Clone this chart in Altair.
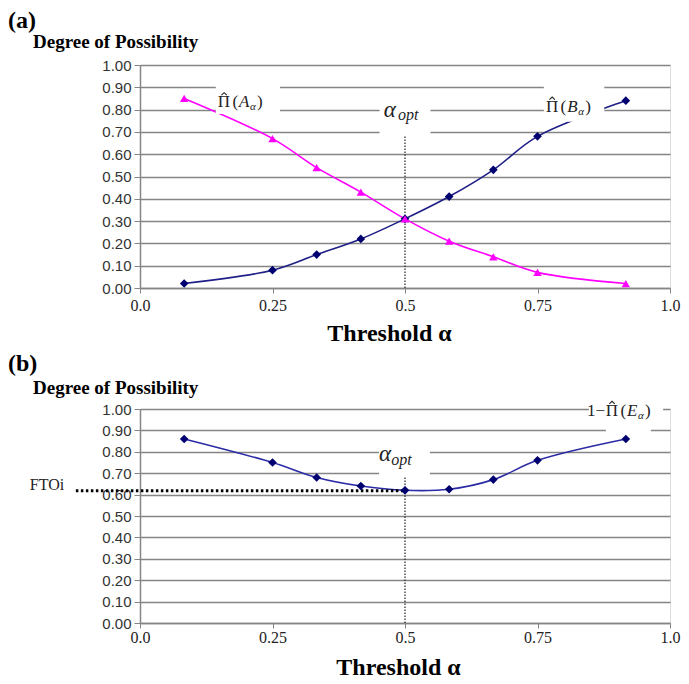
import altair as alt
import pandas as pd

# ---------------- data ----------------
alpha_levels = [1/12, 3/12, 4/12, 5/12, 6/12, 7/12, 8/12, 9/12, 11/12]
pi_A = [0.85, 0.67, 0.54, 0.43, 0.31, 0.21, 0.14, 0.07, 0.02]
pi_B = [0.02, 0.08, 0.15, 0.22, 0.31, 0.41, 0.53, 0.68, 0.84]
one_minus_pi_E = [0.86, 0.75, 0.68, 0.64, 0.62, 0.625, 0.67, 0.76, 0.86]
alpha_opt = 0.5
ftoi = 0.618

x_ticks = [0.0, 0.25, 0.5, 0.75, 1.0]
x_tick_labels = ["0.0", "0.25", "0.5", "0.75", "1.0"]
y_ticks = [0.0, 0.1, 0.2, 0.3, 0.4, 0.5, 0.6, 0.7, 0.8, 0.9, 1.0]

# white label-background boxes (data coordinates)
boxes_a = {"x": [0.143, 0.452, 0.762], "x2": [0.264, 0.548, 0.876],
           "y": [0.78, 0.685, 0.745], "y2": [0.915, 0.86, 0.915]}
boxes_b = {"x": [0.451, 0.847, 0.879], "x2": [0.547, 0.987, 0.964],
           "y": [0.687, 0.975, 0.88], "y2": [0.841, 1.03, 0.975]}

SERIF = "Liberation Serif"
SANS = "Liberation Sans"
GRID = "#858585"
PINK = "#ff00ff"
NAVY = "#000070"
HAT = "M-1,0.45L0,-0.45L1,0.45"

label_expr = " : ".join(
    f"datum.value == {v} ? '{t}'" for v, t in zip(x_ticks, x_tick_labels)
) + " : ''"

xs = alt.Scale(domain=[0, 1], nice=False, zero=False)
ys = alt.Scale(domain=[0, 1], nice=False, zero=False)


def encs(label_padding, title_padding, title_x):
    xaxis = alt.Axis(values=x_ticks, labelExpr=label_expr, grid=False,
                     title="Threshold α", titleFont=SERIF, titleFontSize=24,
                     titleFontWeight="bold", titleColor="black",
                     titlePadding=title_padding, titleX=title_x,
                     labelFont=SERIF, labelFontSize=16, labelColor="#222",
                     labelPadding=label_padding, tickSize=5, tickColor=GRID,
                     domainColor=GRID, domainWidth=1.5, labelFlush=False,
                     labelOverlap=False)
    yaxis = alt.Axis(values=y_ticks, format=".2f", grid=True, gridColor=GRID,
                     gridWidth=1.5, title=None, labelFont=SANS,
                     labelFontSize=15, labelColor="#333", labelPadding=3,
                     tickSize=6, tickColor=GRID, domainColor=GRID,
                     domainWidth=1.5, labelOverlap=False)
    X = alt.X("x:Q", scale=xs, axis=xaxis)
    Y = alt.Y("y:Q", scale=ys, axis=yaxis)
    return X, Y


def text_at(X, Y, x, y, t, **kw):
    df = pd.DataFrame({"x": [x], "y": [y], "t": [t]})
    base = dict(font=SERIF, color="#222", baseline="alphabetic")
    base.update(kw)
    return alt.Chart(df).mark_text(**base).encode(x=X, y=Y, text="t:N")


def px_text(t, xpx, ypx, **kw):
    df = pd.DataFrame({"t": [t]})
    base = dict(font=SERIF, color="black", fontWeight="bold",
                align="left", baseline="middle")
    base.update(kw)
    return alt.Chart(df).mark_text(**base).encode(
        x=alt.value(xpx), y=alt.value(ypx), text="t:N")


def series(X, Y, ys_vals, color, line_color, shape, size):
    df = pd.DataFrame({"x": alpha_levels, "y": ys_vals})
    line = alt.Chart(df).mark_line(color=line_color, strokeWidth=1.6,
                                   interpolate="catmull-rom").encode(x=X, y=Y)
    pts = alt.Chart(df).mark_point(shape=shape, filled=True, size=size,
                                   color=color, opacity=1).encode(x=X, y=Y)
    return line, pts


def boxes(X, Y, b):
    df = pd.DataFrame(b)
    return alt.Chart(df).mark_rect(color="white").encode(
        x=X, x2="x2:Q", y=Y, y2="y2:Q")


def vrule(X, Y, top):
    df = pd.DataFrame({"x": [alpha_opt], "y": [0.0], "y2": [top]})
    return alt.Chart(df).mark_rule(color="#333", strokeWidth=1.3,
                                   strokeDash=[1.5, 1.5]).encode(
        x=X, y=Y, y2="y2:Q")


def pi_label(X, Y, x, y, letter, prefix=None):
    hat_df = pd.DataFrame({"x": [x], "y": [y]})
    parts = [
        text_at(X, Y, x, y, "(", align="right", fontSize=17, dx=-1),
        text_at(X, Y, x, y, "Π", align="right", fontSize=17, dx=-9),
        alt.Chart(hat_df).mark_point(shape=HAT, filled=False, size=30,
                                     strokeWidth=1.1, color="#222", opacity=1,
                                     xOffset=-15, yOffset=-13.5).encode(x=X, y=Y),
        text_at(X, Y, x, y, letter, align="left", fontSize=17, fontStyle="italic"),
        text_at(X, Y, x, y, "α", align="left", fontSize=11, fontStyle="italic", dx=11, dy=3),
        text_at(X, Y, x, y, ")", align="left", fontSize=17, dx=18),
    ]
    if prefix:
        parts.append(text_at(X, Y, x, y, prefix, align="right", fontSize=17, dx=-22))
    return parts


def alpha_opt_label(X, Y, x, y, x2, y2):
    return [
        text_at(X, Y, x, y, "α", align="left", fontSize=23, fontStyle="italic"),
        text_at(X, Y, x2, y2, "opt", align="left", fontSize=16, fontStyle="italic"),
    ]


# ---------------- panel (a) ----------------
Xa, Ya = encs(label_padding=4, title_padding=8, title_x=249)
lineB, ptsB = series(Xa, Ya, pi_B, NAVY, "#1f1f87", "diamond", 75)
lineA, ptsA = series(Xa, Ya, pi_A, PINK, PINK, "triangle-up", 70)
layers_a = [lineB, lineA, boxes(Xa, Ya, boxes_a), vrule(Xa, Ya, 0.685), ptsB, ptsA]
layers_a += pi_label(Xa, Ya, 0.187, 0.81, "A")
layers_a += pi_label(Xa, Ya, 0.806, 0.79, "B")
layers_a += alpha_opt_label(Xa, Ya, 0.460, 0.767, 0.487, 0.754)
layers_a += [px_text("(a)", -132, -44, fontSize=24),
             px_text("Degree of Possibility", -107, -23, fontSize=19)]
panel_a = alt.layer(*layers_a).properties(width=530, height=223)

# ---------------- panel (b) ----------------
Xb, Yb = encs(label_padding=1, title_padding=10, title_x=258)
lineE, ptsE = series(Xb, Yb, one_minus_pi_E, NAVY, "#2b2ba6", "diamond", 75)
ftoi_df = pd.DataFrame({"x": [-0.121], "x2": [alpha_opt], "y": [ftoi]})
ftoi_rule = alt.Chart(ftoi_df).mark_rule(color="black", strokeWidth=3,
                                         strokeDash=[2.5, 2.5]).encode(
    x=Xb, x2="x2:Q", y=Yb)
layers_b = [lineE, boxes(Xb, Yb, boxes_b), vrule(Xb, Yb, 0.687), ftoi_rule, ptsE]
layers_b += pi_label(Xb, Yb, 0.919, 0.967, "E", prefix="1−")
layers_b += alpha_opt_label(Xb, Yb, 0.451, 0.757, 0.474, 0.738)
layers_b += [text_at(Xb, Yb, -0.143, 0.645, "FTOi", align="right",
                     baseline="middle", fontSize=16),
             px_text("(b)", -132, -45, fontSize=24),
             px_text("Degree of Possibility", -107, -21, fontSize=19)]
panel_b = alt.layer(*layers_b).properties(width=530, height=214)

chart = alt.vconcat(panel_a, panel_b, spacing=5).properties(
    padding={"left": 7, "top": 8, "right": 4, "bottom": 2}
).configure_view(stroke=None).configure(background="white")

chart.save("out.html", embed_options={"renderer": "svg", "actions": False})
